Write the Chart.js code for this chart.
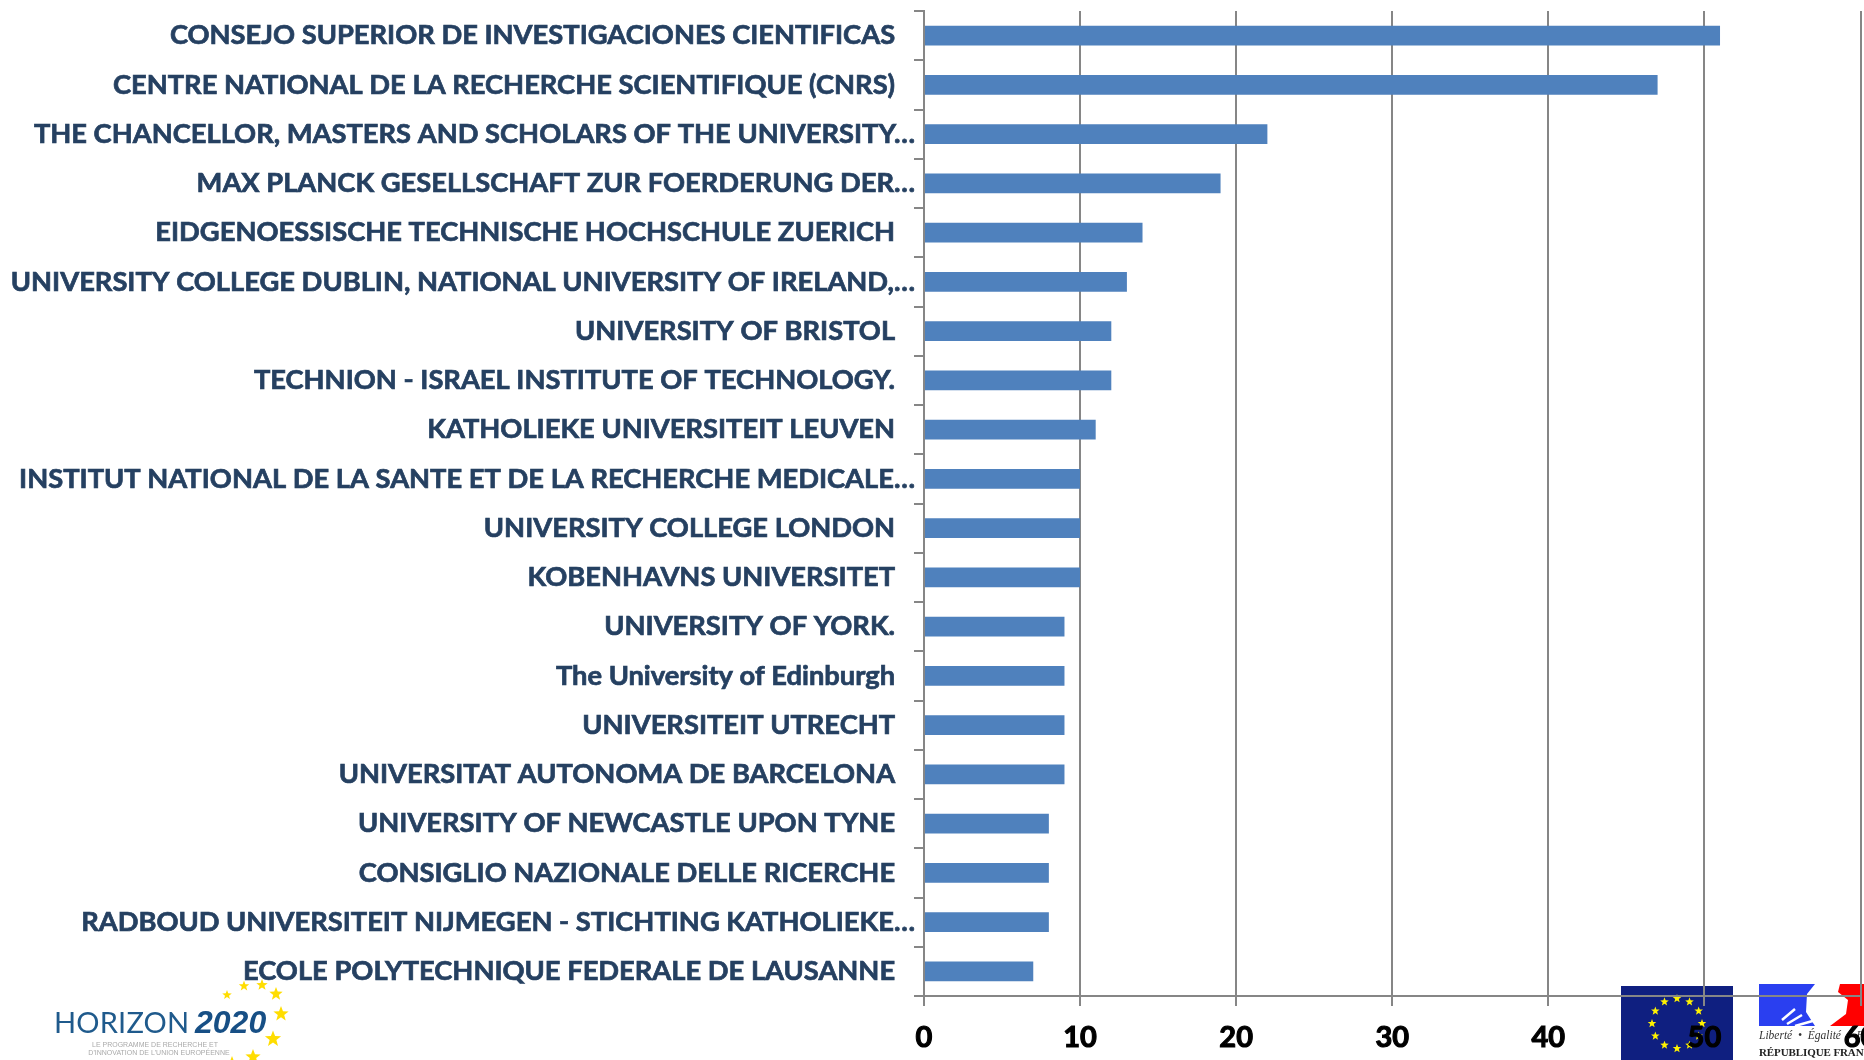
<!DOCTYPE html>
<html>
<head>
<meta charset="utf-8">
<style>html,body{margin:0;padding:0;background:#fff;overflow:hidden}canvas{display:block}</style>
<script src="https://cdn.jsdelivr.net/npm/chart.js@4/dist/chart.umd.js"></script>
</head>
<body>
<canvas id="c" width="1864" height="1060"></canvas>
<script>
const categories = [
  "CONSEJO SUPERIOR DE INVESTIGACIONES CIENTIFICAS   ",
  "CENTRE NATIONAL DE LA RECHERCHE SCIENTIFIQUE (CNRS)   ",
  "THE CHANCELLOR, MASTERS AND SCHOLARS OF THE UNIVERSITY…",
  "MAX PLANCK GESELLSCHAFT ZUR FOERDERUNG DER…",
  "EIDGENOESSISCHE TECHNISCHE HOCHSCHULE ZUERICH   ",
  "UNIVERSITY COLLEGE DUBLIN, NATIONAL UNIVERSITY OF IRELAND,…",
  "UNIVERSITY OF BRISTOL   ",
  "TECHNION - ISRAEL INSTITUTE OF TECHNOLOGY.   ",
  "KATHOLIEKE UNIVERSITEIT LEUVEN   ",
  "INSTITUT NATIONAL DE LA SANTE ET DE LA RECHERCHE MEDICALE…",
  "UNIVERSITY COLLEGE LONDON   ",
  "KOBENHAVNS UNIVERSITET   ",
  "UNIVERSITY OF YORK.   ",
  "The University of Edinburgh   ",
  "UNIVERSITEIT UTRECHT   ",
  "UNIVERSITAT AUTONOMA DE BARCELONA   ",
  "UNIVERSITY OF NEWCASTLE UPON TYNE   ",
  "CONSIGLIO NAZIONALE DELLE RICERCHE   ",
  "RADBOUD UNIVERSITEIT NIJMEGEN - STICHTING KATHOLIEKE…",
  "ECOLE POLYTECHNIQUE FEDERALE DE LAUSANNE   "
];
const values = [51, 47, 22, 19, 14, 13, 12, 12, 11, 10, 10, 10, 9, 9, 9, 9, 8, 8, 8, 7];
const xMax = 60;
const xStep = 10;

function star(ctx, cx, cy, r, color) {
  ctx.fillStyle = color;
  ctx.beginPath();
  for (let i = 0; i < 10; i++) {
    const a = -Math.PI / 2 + i * Math.PI / 5;
    const q = i % 2 ? r * 0.42 : r;
    ctx.lineTo(cx + q * Math.cos(a), cy + q * Math.sin(a));
  }
  ctx.closePath();
  ctx.fill();
}

const logos = {
  id: 'logos',
  beforeDraw(chart) {
    const ctx = chart.ctx;
    ctx.save();
    ctx.fillStyle = '#fff';
    ctx.fillRect(0, 0, chart.width, chart.height);

    // Horizon 2020
    ctx.textBaseline = 'alphabetic';
    ctx.textAlign = 'left';
    ctx.fillStyle = '#1F5A8C';
    ctx.font = '400 29px Lato';
    ctx.letterSpacing = '0.2px';
    ctx.fillText('HORIZON', 54, 1033);
    ctx.letterSpacing = '0px';
    ctx.fillStyle = '#174F85';
    ctx.font = 'italic bold 32px "Liberation Sans"';
    ctx.fillText('2020', 195, 1033);
    ctx.fillStyle = '#aaa';
    ctx.textAlign = 'center';
    ctx.font = '7px "Liberation Sans"';
    ctx.fillText('LE PROGRAMME DE RECHERCHE ET', 155, 1047);
    ctx.fillText("D'INNOVATION DE L'UNION EUROPÉENNE", 159, 1055);
    [[227,995,5],[244,986,5.5],[262,985,6],[276,994,7],[281,1014,8],[273,1039,8.5],[253,1057,8],[232,1062,6]]
      .forEach(s => star(ctx, s[0], s[1], s[2], '#FFDD00'));

    // EU flag
    ctx.fillStyle = '#0F1F80';
    ctx.fillRect(1621, 986, 112, 74);
    for (let i = 0; i < 12; i++) {
      const a = i * Math.PI / 6;
      star(ctx, 1677 + 25 * Math.sin(a), 1023.5 - 25 * Math.cos(a), 4.5, '#FFF200');
    }

    // Marianne
    ctx.fillStyle = '#2A3FF0';
    ctx.beginPath();
    ctx.moveTo(1759, 984); ctx.lineTo(1815, 984); ctx.lineTo(1807, 994);
    ctx.lineTo(1806, 1012); ctx.lineTo(1815, 1026); ctx.lineTo(1759, 1026);
    ctx.closePath(); ctx.fill();
    ctx.strokeStyle = '#fff'; ctx.lineWidth = 2.5;
    ctx.beginPath();
    ctx.moveTo(1782, 1020); ctx.lineTo(1795, 1009);
    ctx.moveTo(1787, 1024); ctx.lineTo(1802, 1015);
    ctx.moveTo(1795, 1026); ctx.lineTo(1816, 1020);
    ctx.stroke();
    ctx.fillStyle = '#FF0000';
    ctx.beginPath();
    ctx.moveTo(1840, 984); ctx.lineTo(1864, 984); ctx.lineTo(1864, 1026); ctx.lineTo(1830, 1026);
    ctx.lineTo(1846, 1014); ctx.lineTo(1848, 1000); ctx.lineTo(1838, 992);
    ctx.closePath(); ctx.fill();
    ctx.textAlign = 'left';
    ctx.fillStyle = '#333';
    ctx.font = 'italic 11.5px "Liberation Serif"';
    ctx.fillText('Liberté  •  Égalité  •  Fraternité', 1759, 1039);
    ctx.fillStyle = '#222';
    ctx.font = 'bold 11px "Liberation Serif"';
    ctx.letterSpacing = '-0.1px';
    ctx.fillText('RÉPUBLIQUE FRANÇAISE', 1759, 1056);
    ctx.letterSpacing = '0px';
    ctx.restore();
  }
};

new Chart(document.getElementById('c'), {
  type: 'bar',
  data: {
    labels: categories,
    datasets: [{
      data: values,
      backgroundColor: '#4F81BD',
      categoryPercentage: 0.4,
      barPercentage: 1
    }]
  },
  options: {
    indexAxis: 'y',
    responsive: false,
    animation: false,
    layout: { padding: { top: 11, right: 3.5, left: 0, bottom: 0 } },
    plugins: { legend: { display: false }, tooltip: { enabled: false } },
    scales: {
      x: {
        min: 0, max: xMax,
        ticks: { stepSize: xStep, color: '#000', font: { family: 'Lato', weight: 'bold', size: 29 }, padding: 14, maxRotation: 0, textStrokeColor: '#000', textStrokeWidth: 1.1 },
        grid: { color: '#868686', lineWidth: 2, tickLength: 10, drawTicks: true },
        border: { color: '#868686', width: 2 },
        afterFit(s) { s.height = 64; s.paddingLeft = 0; s.paddingRight = 0; }
      },
      y: {
        ticks: { autoSkip: false, color: '#254061', font: { family: 'Lato', weight: 'bold', size: 27.3 }, padding: -1, textStrokeColor: '#254061', textStrokeWidth: 0.7 },
        grid: { drawOnChartArea: false, drawTicks: true, tickLength: 10, color: '#868686', lineWidth: 2 },
        border: { color: '#868686', width: 2 },
        afterFit(s) { s.width = 924; s.paddingTop = 0; s.paddingBottom = 0; }
      }
    }
  },
  plugins: [logos]
});
</script>
</body>
</html>
